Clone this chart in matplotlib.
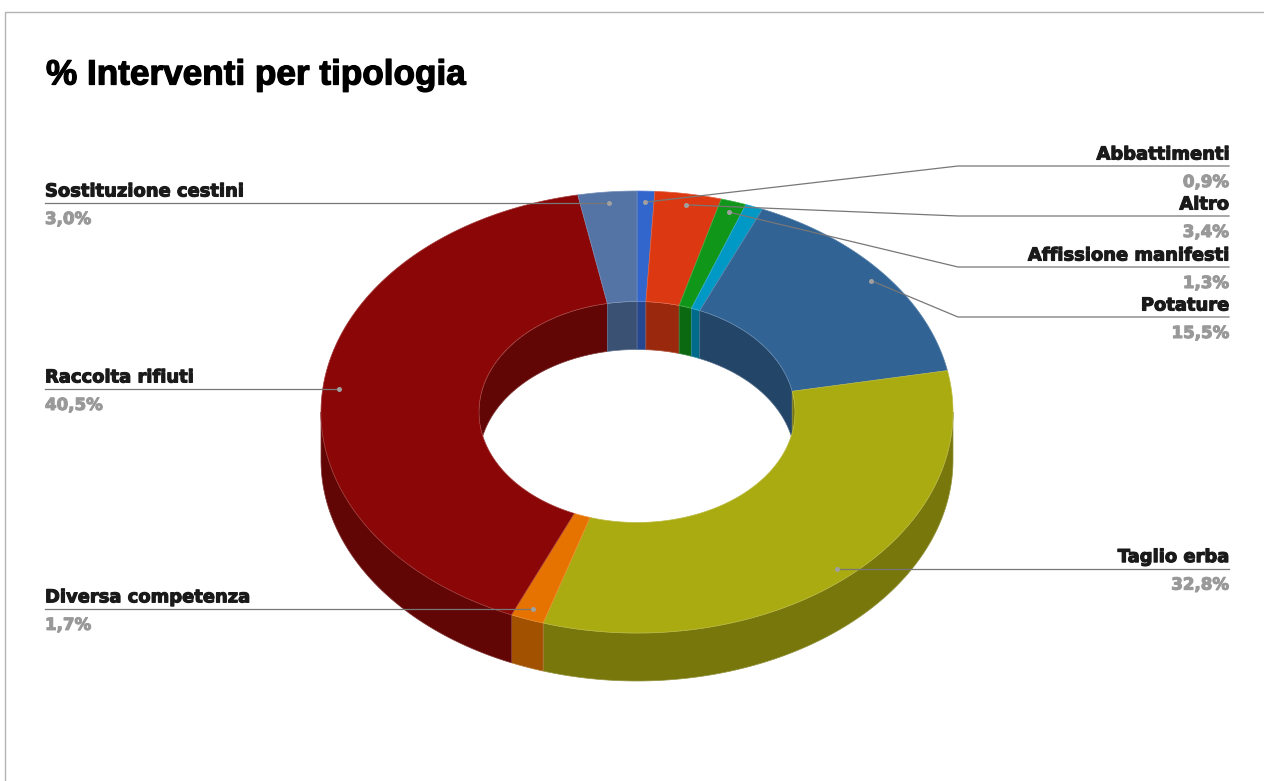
import matplotlib
matplotlib.use("Agg")
import matplotlib.pyplot as plt
import matplotlib.patheffects as pe
from matplotlib.colors import to_rgb
from matplotlib.patches import Ellipse, Polygon
import numpy as np

title = "% Interventi per tipologia"
# the light blue slice has no label in the original
names = ["Abbattimenti", "Altro", "Affissione manifesti", "", "Potature",
         "Taglio erba", "Diversa competenza", "Raccolta rifiuti", "Sostituzione cestini"]
values = [0.9, 3.4, 1.3, 0.9, 15.5, 32.8, 1.7, 40.5, 3.0]
colors = ["#3366cc", "#dc3912", "#109618", "#0099c6", "#316395",
          "#aaaa11", "#e67300", "#8b0707", "#5574a6"]

# layout, in pixels
W, H = 1264, 781
CX, CY = 637, 412
RX, RY = 316, 221
HOLE = 0.5
DEPTH = 48
DOT_R = 0.95
LEFT_X, RIGHT_X, ELBOW_X = 45, 1229, 958
leader_y = {"Abbattimenti": 166, "Altro": 216, "Affissione manifesti": 267, "Potature": 317}


def arc(a0, a1, scale, dy=0):
    # angles in degrees, clockwise from 12 o'clock
    t = np.radians(np.linspace(a0, a1, max(int(abs(a1 - a0) * 2), 2)))
    return np.column_stack([CX + RX * scale * np.sin(t), CY - RY * scale * np.cos(t) + dy])


def darker(c, k=0.7):
    return tuple(v * k for v in to_rgb(c))


def seam(c):
    return tuple(v + (1 - v) * 0.2 for v in to_rgb(c))


fig = plt.figure(figsize=(W / 100, H / 100), dpi=100)
ax = fig.add_axes([0, 0, 1, 1])
ax.set_xlim(0, W)
ax.set_ylim(H, 0)
ax.axis("off")

# frame of the sheet, only top and left are visible
ax.plot([W, 5, 5], [12, 12, H], color="#b3b3b3", lw=1, zorder=0)

edges = np.concatenate([[0], np.cumsum(values)]) * 3.6
hole_clip = Ellipse((CX, CY), 2 * RX * HOLE, 2 * RY * HOLE, transform=ax.transData)

# inner wall, back half of the hole
for i, c in enumerate(colors):
    for lo, hi in [(0, 90), (270, 360)]:
        a0, a1 = max(edges[i], lo), min(edges[i + 1], hi)
        if a1 <= a0:
            continue
        pts = np.vstack([arc(a0, a1, HOLE), arc(a0, a1, HOLE, DEPTH)[::-1]])
        p = Polygon(pts, closed=True, facecolor=darker(c), edgecolor=seam(darker(c)), lw=0.5, zorder=1)
        ax.add_patch(p)
        p.set_clip_path(hole_clip)

# outer wall, front half
for i, c in enumerate(colors):
    a0, a1 = max(edges[i], 90), min(edges[i + 1], 270)
    if a1 <= a0:
        continue
    pts = np.vstack([arc(a0, a1, 1), arc(a0, a1, 1, DEPTH)[::-1]])
    ax.add_patch(Polygon(pts, closed=True, facecolor=darker(c), edgecolor=seam(darker(c)), lw=0.5, zorder=2))

# top face
for i, c in enumerate(colors):
    pts = np.vstack([arc(edges[i], edges[i + 1], 1), arc(edges[i], edges[i + 1], HOLE)[::-1]])
    ax.add_patch(Polygon(pts, closed=True, facecolor=c, edgecolor=seam(c), lw=0.5, zorder=3))

ax.text(46, 75, title, fontsize=25.3, fontweight="bold", family="Liberation Sans", color="black",
        va="center", ha="left", zorder=6,
        path_effects=[pe.withStroke(linewidth=0.9, foreground="black")])

# leaders and labels
for i, name in enumerate(names):
    if not name:
        continue
    mid = np.radians((edges[i] + edges[i + 1]) / 2)
    dx = CX + RX * DOT_R * np.sin(mid)
    dy = CY - RY * DOT_R * np.cos(mid)
    right = np.sin(mid) > 0
    pct = f"{values[i]:.1f}%".replace(".", ",")
    end = RIGHT_X if right else LEFT_X
    y = leader_y.get(name, dy)
    if right:
        ax.plot([dx, ELBOW_X, end], [dy, y, y], color="#777777", lw=0.9, zorder=4)
    else:
        ax.plot([dx, end], [dy, y], color="#777777", lw=0.9, zorder=4)
    ax.plot([dx], [dy], "o", ms=3.6, color="#a0a0a0", mew=0, zorder=5)
    ha = "right" if right else "left"
    ax.text(end, y - 2.5, name, ha=ha, va="bottom", fontsize=12.9, fontweight="bold",
            family="DejaVu Sans", color="#1a1a1a", zorder=6,
            path_effects=[pe.withStroke(linewidth=0.8, foreground="#1a1a1a")])
    ax.text(end, y + 7, pct, ha=ha, va="top", fontsize=12, fontweight="bold",
            family="DejaVu Sans", color="#999999", zorder=6,
            path_effects=[pe.withStroke(linewidth=0.8, foreground="#999999")])

fig.savefig("out.png", dpi=100, facecolor="white")
